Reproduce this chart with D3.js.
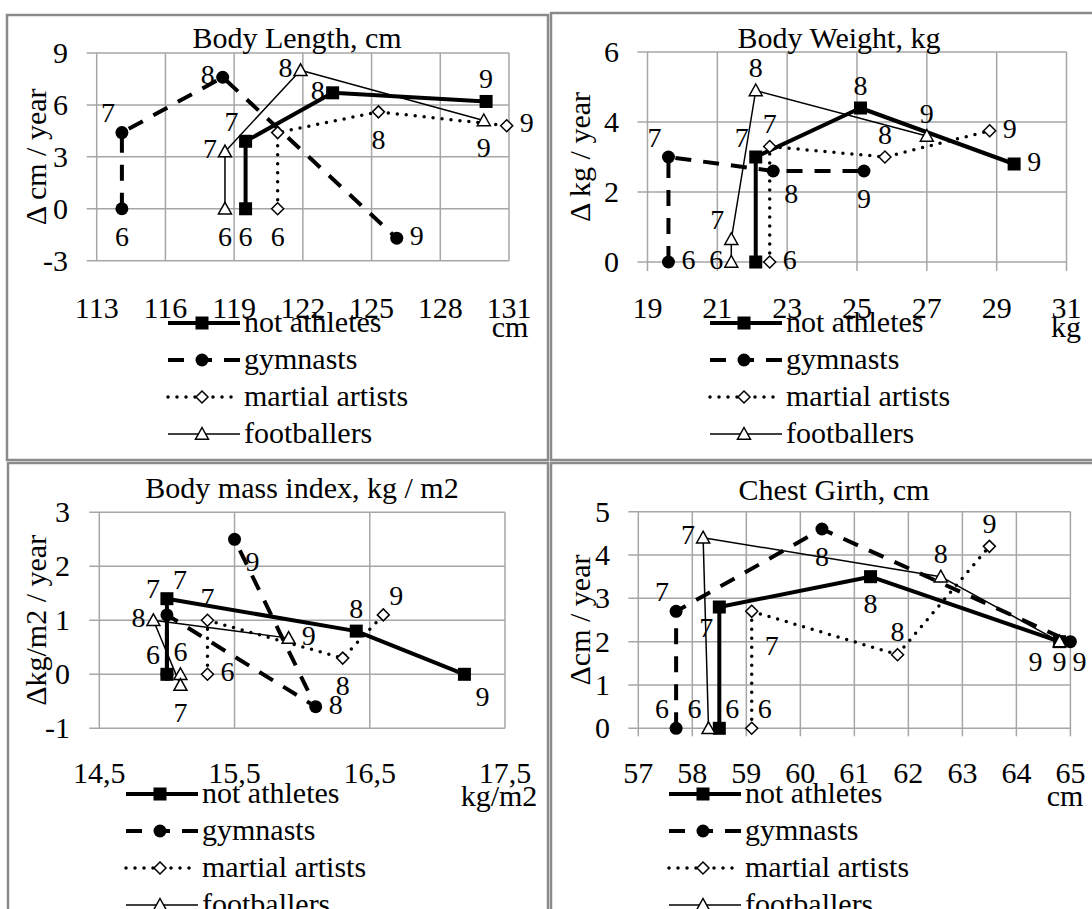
<!DOCTYPE html>
<html>
<head>
<meta charset="utf-8">
<script src="https://cdnjs.cloudflare.com/ajax/libs/d3/7.8.5/d3.min.js"></script>
<style>
  body { margin: 0; background: #fff; }
  svg { display: block; font-family: "Liberation Serif", "Times New Roman", serif; }
</style>
</head>
<body>
<svg id="chart" width="1092" height="909"></svg>
<script>
// groups and ages
var groups = ["not athletes", "gymnasts", "martial artists", "footballers"];
var ages = [6, 7, 8, 9];

// Body Length: x = cm, y = cm / year (one row per group, one value per age)
var lengthX = [[119.5, 119.5, 123.3, 130.0], [114.1, 114.1, 118.5, 126.1], [120.9, 120.9, 125.3, 130.9], [118.6, 118.6, 121.9, 129.9]];
var lengthY = [[0, 3.9, 6.7, 6.2], [0, 4.4, 7.6, -1.7], [0, 4.4, 5.6, 4.8], [0, 3.3, 8.0, 5.1]];
var lengthXTicks = [113, 116, 119, 122, 125, 128, 131];
var lengthYTicks = [-3, 0, 3, 6, 9];

// Body Weight
var weightX = [[22.1, 22.1, 25.1, 29.5], [19.6, 19.6, 22.6, 25.2], [22.5, 22.5, 25.8, 28.8], [21.4, 21.4, 22.1, 27.0]];
var weightY = [[0, 3.0, 4.4, 2.8], [0, 3.0, 2.6, 2.6], [0, 3.3, 3.0, 3.75], [0, 0.65, 4.9, 3.6]];
var weightXTicks = [19, 21, 23, 25, 27, 29, 31];
var weightYTicks = [0, 2, 4, 6];

// Body mass index
var bmiX = [[15.0, 15.0, 16.4, 17.2], [15.0, 15.0, 16.1, 15.5], [15.3, 15.3, 16.3, 16.6], [15.1, 15.1, 14.9, 15.9]];
var bmiY = [[0, 1.4, 0.8, 0], [0, 1.1, -0.6, 2.5], [0, 1.0, 0.3, 1.1], [0, -0.2, 1.0, 0.67]];
var bmiXTicks = [14.5, 15.5, 16.5, 17.5];
var bmiYTicks = [-1, 0, 1, 2, 3];

// Chest Girth
var chestX = [[58.5, 58.5, 61.3, 64.8], [57.7, 57.7, 60.4, 65.0], [59.1, 59.1, 61.8, 63.5], [58.3, 58.2, 62.6, 64.8]];
var chestY = [[0, 2.8, 3.5, 2.0], [0, 2.7, 4.6, 2.0], [0, 2.7, 1.7, 4.2], [0, 4.4, 3.5, 2.0]];
var chestXTicks = [57, 58, 59, 60, 61, 62, 63, 64, 65];
var chestYTicks = [0, 1, 2, 3, 4, 5];

// where each age label sits relative to its point
var lengthLabels = [["b", "tl", "l", "t"], ["b", "tl", "l", "r"], ["b", null, "b", "r"], ["b", "l", "l", "b"]];
var weightLabels = [[null, "tl", "t", "r"], ["r", "tl", "br", "b"], ["r", "t", "t", "r"], ["l", "tl", "t", "t"]];
var bmiLabels = [["tl", "tr", "t", "br"], [null, "tL", "r", "br"], ["r", "t", "b", "tr"], ["t", "b", "l", "r"]];
var chestLabels = [["tr", "bl", "b", "bL"], ["tl", "tl", "b", "bR"], ["tr", "bB", "t", "t"], ["tl", "l", "t", "bs"]];

var labelOffset = {
  t: [0, -23], b: [0, 27], l: [-15, -3], r: [20, -3],
  tl: [-14, -20], tL: [-14, -27], tr: [13, -20], bl: [-13, 20], br: [18, 22],
  bL: [-24, 20], bR: [9, 20], bs: [0, 20], bB: [20, 34]
};

var panels = [
  { title: "Body Length, cm", ytitle: "\u0394 cm / year", unit: "cm", xs: lengthX, ys: lengthY, xt: lengthXTicks, yt: lengthYTicks, labels: lengthLabels,
    box: [7, 15, 541, 445], plot: [96.7, 53, 509, 260.7], titleY: 48, titleX: 297, ytX: 35, yLabX: 68, xLabY: 318, unitX: 510, unitY: 337,
    xTickDown: 0, legX: 244, legY: 323, fmt: d3.format("d") },
  { title: "Body Weight, kg", ytitle: "\u0394 kg / year", unit: "kg", xs: weightX, ys: weightY, xt: weightXTicks, yt: weightYTicks, labels: weightLabels,
    box: [551, 13, 560, 447], plot: [647.5, 52, 1066.5, 262], titleY: 48, titleX: 839, ytX: 579, yLabX: 619, xLabY: 318, unitX: 1066, unitY: 337,
    xTickDown: 9, legX: 786, legY: 323, fmt: d3.format("d") },
  { title: "Body mass index, kg / m2", ytitle: "\u0394kg/m2 / year", unit: "kg/m2", xs: bmiX, ys: bmiY, xt: bmiXTicks, yt: bmiYTicks, labels: bmiLabels,
    box: [8, 463, 540, 460], plot: [99.3, 512.3, 505, 728.3], titleY: 498, titleX: 302, ytX: 35, yLabX: 70, xLabY: 783, unitX: 499, unitY: 806,
    xTickDown: 0, legX: 202, legY: 794, fmt: function (d) { return String(d).replace(".", ","); } },
  { title: "Chest Girth, cm", ytitle: "\u0394cm / year", unit: "cm", xs: chestX, ys: chestY, xt: chestXTicks, yt: chestYTicks, labels: chestLabels,
    box: [551, 463, 560, 460], plot: [638.3, 511.7, 1070.4, 728.3], titleY: 500, titleX: 834, ytX: 579, yLabX: 610, xLabY: 783, unitX: 1065, unitY: 806,
    xTickDown: 8, legX: 745, legY: 794, fmt: d3.format("d") }
];

// line + marker styles per group
var styles = [
  { width: 4, dash: null, cap: "butt", marker: "square", size: 13 },
  { width: 4, dash: "16,12", cap: "butt", marker: "circle", size: 13 },
  { width: 3.5, dash: "0,9", cap: "round", marker: "diamond", size: 12 },
  { width: 1.5, dash: null, cap: "butt", marker: "triangle", size: 13 }
];

var svg = d3.select("#chart");
var fontSize = 30;

function drawMarker(g, st, x, y) {
  var s = st.size;
  if (st.marker === "square") {
    g.append("rect").attr("x", x - s / 2).attr("y", y - s / 2).attr("width", s).attr("height", s).attr("fill", "#000");
  } else if (st.marker === "circle") {
    g.append("circle").attr("cx", x).attr("cy", y).attr("r", s / 2).attr("fill", "#000");
  } else if (st.marker === "diamond") {
    var h = s / 2;
    g.append("path").attr("d", "M" + x + "," + (y - h) + "L" + (x + h) + "," + y + "L" + x + "," + (y + h) + "L" + (x - h) + "," + y + "Z")
      .attr("fill", "#fff").attr("stroke", "#000").attr("stroke-width", 1.5);
  } else {
    var w = s / 2;
    g.append("path").attr("d", "M" + x + "," + (y - w) + "L" + (x + w) + "," + (y + w * 0.8) + "L" + (x - w) + "," + (y + w * 0.8) + "Z")
      .attr("fill", "#fff").attr("stroke", "#000").attr("stroke-width", 1.5);
  }
}

panels.forEach(function (p) {
  var g = svg.append("g");
  var x = d3.scaleLinear().domain([p.xt[0], p.xt[p.xt.length - 1]]).range([p.plot[0], p.plot[2]]);
  var y = d3.scaleLinear().domain([p.yt[0], p.yt[p.yt.length - 1]]).range([p.plot[3], p.plot[1]]);

  // border
  g.append("rect").attr("x", p.box[0]).attr("y", p.box[1]).attr("width", p.box[2]).attr("height", p.box[3])
    .attr("fill", "none").attr("stroke", "#8a8a8a").attr("stroke-width", 2.5);

  // grid
  g.selectAll(".hg").data(p.yt).enter().append("line")
    .attr("x1", p.plot[0] - 10).attr("x2", p.plot[2])
    .attr("y1", function (d) { return y(d); }).attr("y2", function (d) { return y(d); })
    .attr("stroke", "#a6a6a6").attr("stroke-width", 1.5);
  g.selectAll(".vg").data(p.xt).enter().append("line")
    .attr("y1", p.plot[1]).attr("y2", p.plot[3] + p.xTickDown)
    .attr("x1", function (d) { return x(d); }).attr("x2", function (d) { return x(d); })
    .attr("stroke", "#a6a6a6").attr("stroke-width", 1.5);

  // tick labels
  g.selectAll(".yl").data(p.yt).enter().append("text")
    .attr("x", p.yLabX).attr("y", function (d) { return y(d) + 10; })
    .attr("text-anchor", "end").attr("font-size", fontSize).text(function (d) { return d; });
  g.selectAll(".xl").data(p.xt).enter().append("text")
    .attr("x", function (d) { return x(d); }).attr("y", p.xLabY)
    .attr("text-anchor", "middle").attr("font-size", fontSize).text(p.fmt);

  // titles
  g.append("text").attr("x", p.titleX).attr("y", p.titleY).attr("text-anchor", "middle")
    .attr("font-size", fontSize).text(p.title);
  g.append("text").attr("transform", "translate(" + p.ytX + "," + ((p.plot[1] + p.plot[3]) / 2) + ") rotate(-90)")
    .attr("text-anchor", "middle").attr("dy", "0.35em").attr("font-size", fontSize).text(p.ytitle);
  g.append("text").attr("x", p.unitX).attr("y", p.unitY).attr("text-anchor", "middle")
    .attr("font-size", fontSize).text(p.unit);

  // series
  var line = d3.line().x(function (d) { return x(d[0]); }).y(function (d) { return y(d[1]); });
  groups.forEach(function (name, i) {
    var st = styles[i];
    var pts = ages.map(function (a, k) { return [p.xs[i][k], p.ys[i][k]]; });
    g.append("path").attr("d", line(pts)).attr("fill", "none").attr("stroke", "#000")
      .attr("stroke-width", st.width).attr("stroke-dasharray", st.dash).attr("stroke-linecap", st.cap)
      .attr("stroke-linejoin", "round");
    pts.forEach(function (d) { drawMarker(g, st, x(d[0]), y(d[1])); });
  });
  // age labels on top
  groups.forEach(function (name, i) {
    ages.forEach(function (a, k) {
      var pos = p.labels[i][k];
      if (!pos) return;
      var o = labelOffset[pos];
      g.append("text").attr("x", x(p.xs[i][k]) + o[0]).attr("y", y(p.ys[i][k]) + o[1])
        .attr("dy", "0.35em").attr("text-anchor", "middle").attr("font-size", 28).text(a);
    });
  });

  // legend
  groups.forEach(function (name, i) {
    var st = styles[i];
    var ly = p.legY + i * 37;
    g.append("line").attr("x1", p.legX - 76).attr("x2", p.legX - 4).attr("y1", ly).attr("y2", ly)
      .attr("stroke", "#000").attr("stroke-width", st.width).attr("stroke-dasharray", st.dash)
      .attr("stroke-linecap", st.cap);
    drawMarker(g, st, p.legX - 42, ly);
    g.append("text").attr("x", p.legX).attr("y", ly + 9).attr("font-size", fontSize).text(name);
  });
});
</script>
</body>
</html>
